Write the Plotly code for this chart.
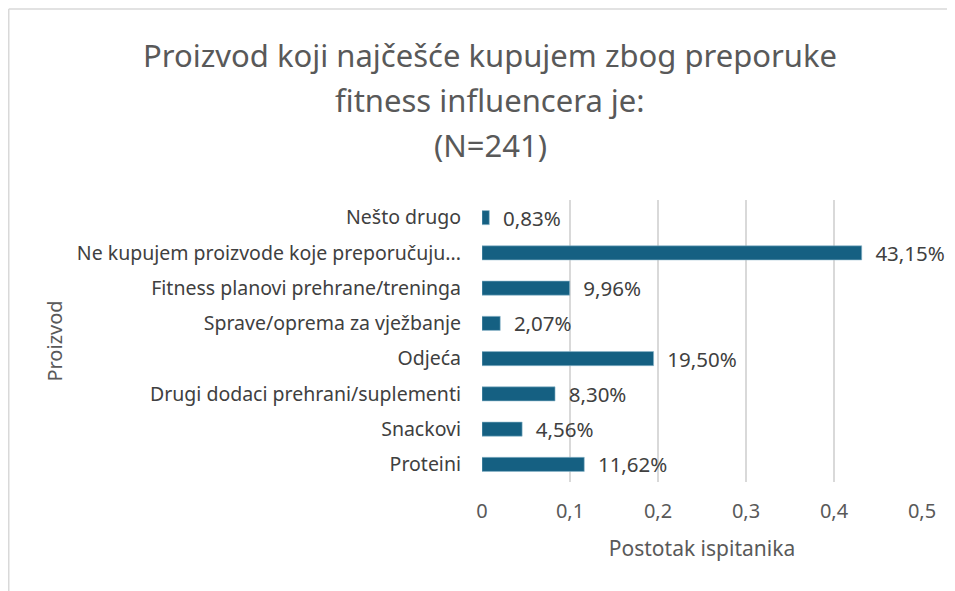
import plotly.graph_objects as go

# categories top to bottom as seen in the chart
categories = [
    "Nešto drugo",
    "Ne kupujem proizvode koje preporučuju...",
    "Fitness planovi prehrane/treninga",
    "Sprave/oprema za vježbanje",
    "Odjeća",
    "Drugi dodaci prehrani/suplementi",
    "Snackovi",
    "Proteini",
]
shares = [0.0083, 0.4315, 0.0996, 0.0207, 0.1950, 0.0830, 0.0456, 0.1162]
x_ticks = [0, 0.1, 0.2, 0.3, 0.4, 0.5]
title_lines = [
    "Proizvod koji najčešće kupujem zbog preporuke",
    "fitness influencera je:",
    "(N=241)",
]

BAR = "#156082"
GREY = "#595959"
DARK = "#404040"
BODY = "Noto Sans, Open Sans, sans-serif"

# the page adds an 8px body margin, so the figure is a bit smaller
W, H = 947, 583
L, R, T, B = 474, 33, 192, 109
plot_w = W - L - R
plot_h = H - T - B


def px_to_paper_x(px):
    return (px - L) / plot_w


def px_to_paper_y(py):
    return (H - B - py) / plot_h


fig = go.Figure()
fig.add_trace(go.Bar(
    y=categories,
    x=shares,
    orientation="h",
    marker=dict(color=BAR, line=dict(color="#8fb8cc", width=0.6)),
    width=0.4,
    texttemplate="\u00a0\u00a0%{x:.2%}",
    textposition="outside",
    constraintext="none",
    textfont=dict(family=BODY, size=20.5, color=DARK),
    cliponaxis=False,
    hoverinfo="skip",
))

fig.update_layout(
    width=W,
    height=H,
    separators=",.",
    paper_bgcolor="white",
    plot_bgcolor="white",
    showlegend=False,
    margin=dict(l=L, r=R, t=T, b=B),
    xaxis=dict(
        range=[0, 0.5],
        tickvals=x_ticks,
        showgrid=True,
        gridcolor="#d9d9d9",
        gridwidth=1.5,
        zeroline=False,
        showline=False,
        ticks="",
        ticklabelstandoff=15,
        tickfont=dict(family=BODY, size=20, color=GREY),
        title=dict(text="Postotak ispitanika",
                   font=dict(family=BODY, size=21, color=GREY),
                   standoff=18),
        fixedrange=True,
    ),
    yaxis=dict(
        categoryorder="array",
        categoryarray=categories[::-1],
        showgrid=False,
        zeroline=False,
        showline=False,
        ticks="",
        ticklabelstandoff=20,
        tickfont=dict(family=BODY, size=19.5, color=DARK),
        title=dict(text="Proizvod",
                   font=dict(family=BODY, size=20, color=GREY),
                   standoff=8),
        fixedrange=True,
    ),
)

# three title lines, spaced like the original
for line, cy in zip(title_lines, [47, 92, 137]):
    fig.add_annotation(
        text=line, xref="paper", yref="paper",
        x=px_to_paper_x(482), y=px_to_paper_y(cy),
        xanchor="center", yanchor="middle", showarrow=False,
        font=dict(family=BODY, size=31, color=GREY),
    )

# light frame lines (left and top) around the chart, as in the exported picture
frame = dict(color="#d9d9d9", width=1.5)
fig.add_shape(type="line", xref="paper", yref="paper",
              x0=px_to_paper_x(0.75), x1=px_to_paper_x(0.75),
              y0=px_to_paper_y(H), y1=px_to_paper_y(1),
              line=frame, layer="below")
fig.add_shape(type="line", xref="paper", yref="paper",
              x0=px_to_paper_x(0.75), x1=px_to_paper_x(W),
              y0=px_to_paper_y(1), y1=px_to_paper_y(1),
              line=frame, layer="below")

fig.write_html("out.html")
